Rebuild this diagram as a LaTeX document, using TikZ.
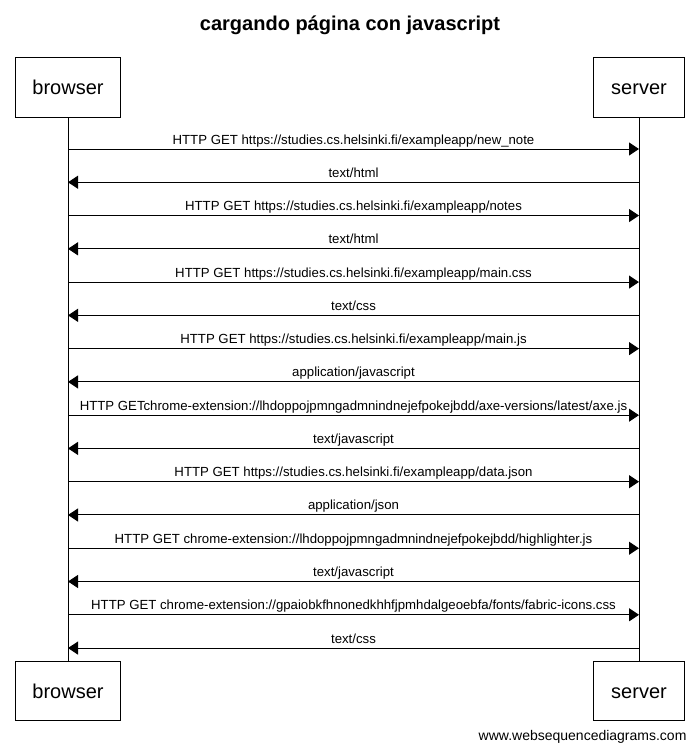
\documentclass[tikz,border=0pt]{standalone}
\usepackage{fontspec}
\setmainfont{Liberation Sans}
\usetikzlibrary{arrows.meta}
\begin{document}
\begin{tikzpicture}[x=1pt,y=-1pt,
  actor/.style={draw,line width=1pt,minimum height=59pt,inner sep=0pt,text height=18.5pt,text depth=3.5pt,font=\fontsize{20}{24}\selectfont},
  bwbox/.style={actor,minimum width=105pt},
  svbox/.style={actor,minimum width=91pt},
  life/.style={line width=1pt},
  msg/.style={line width=1pt,-{Triangle[length=10pt,width=13pt]}},
  lbl/.style={font=\fontsize{13.2}{15}\selectfont,above,inner sep=1.5pt,text depth=3pt}]
\useasboundingbox (0,0) rectangle (699,752);
\node[font=\bfseries\fontsize{20}{24}\selectfont] (title) at (350,25) {cargando página con javascript};
\node[bwbox] (bt) at (68,87.5) {browser};
\node[svbox] (st) at (639,87.5) {server};
\node[bwbox] (bb) at (68,690.5) {browser};
\node[svbox] (sb) at (639,690.5) {server};
\draw[life] (bt.south) -- (bb.north);
\draw[life] (st.south) -- (sb.north);
\foreach \i/\d/\t in {
 1/r/{HTTP GET https://studies.cs.helsinki.fi/exampleapp/new\_note},
 2/l/{text/html},
 3/r/{HTTP GET https://studies.cs.helsinki.fi/exampleapp/notes},
 4/l/{text/html},
 5/r/{HTTP GET https://studies.cs.helsinki.fi/exampleapp/main.css},
 6/l/{text/css},
 7/r/{HTTP GET https://studies.cs.helsinki.fi/exampleapp/main.js},
 8/l/{application/javascript},
 9/r/{HTTP GETchrome-extension://lhdoppojpmngadmnindnejefpokejbdd/axe-versions/latest/axe.js},
 10/l/{text/javascript},
 11/r/{HTTP GET https://studies.cs.helsinki.fi/exampleapp/data.json},
 12/l/{application/json},
 13/r/{HTTP GET chrome-extension://lhdoppojpmngadmnindnejefpokejbdd/highlighter.js},
 14/l/{text/javascript},
 15/r/{HTTP GET chrome-extension://gpaiobkfhnonedkhhfjpmhdalgeoebfa/fonts/fabric-icons.css},
 16/l/{text/css}}{
  \pgfmathsetmacro\yy{149+33.27*(\i-1)}
  \coordinate (b\i) at (68,\yy);
  \coordinate (s\i) at (639,\yy);
  \if\d r
    \draw[msg] (b\i) -- (s\i) node[lbl,midway] (m\i) {\t};
  \else
    \draw[msg] (s\i) -- (b\i) node[lbl,midway] (m\i) {\t};
  \fi
}
\node[font=\fontsize{14}{16}\selectfont,anchor=east] (foot) at (690,737) {www.websequencediagrams.com};
\end{tikzpicture}
\end{document}
